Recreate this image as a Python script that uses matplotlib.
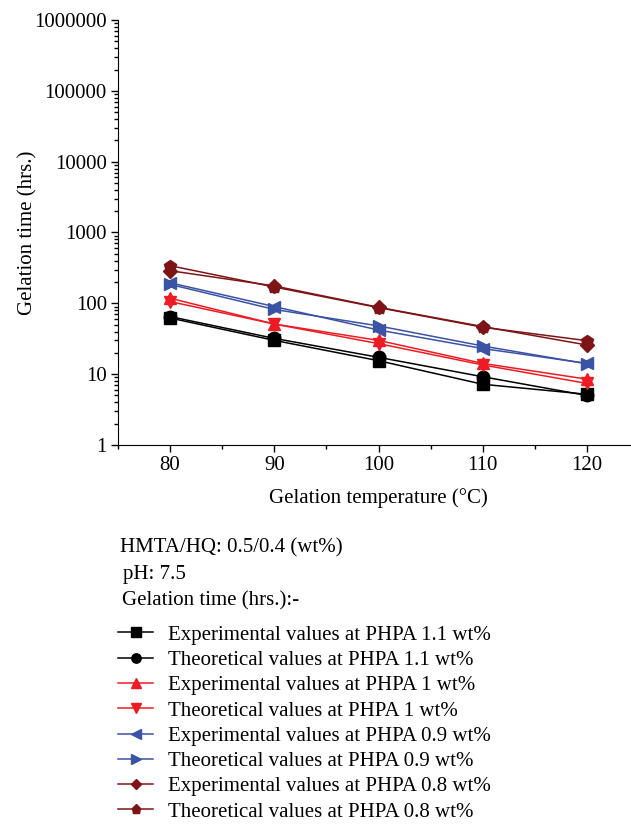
import matplotlib
matplotlib.use('Agg')
import matplotlib.pyplot as plt
import numpy as np

plt.rcParams['font.family'] = ['Liberation Serif', 'DejaVu Serif']

temps = [80, 90, 100, 110, 120]

exp_11 = [62, 30, 15.5, 7.2, 5.2]
theo_11 = [65, 32, 17.3, 9.2, 5.0]
exp_10 = [118, 51, 30, 14.2, 8.5]
theo_10 = [106, 51, 27, 13.5, 7.4]
exp_09 = [195, 90, 42, 23, 14.2]
theo_09 = [185, 82, 48, 25, 14.0]
exp_08 = [289, 176, 88, 47, 25.8]
theo_08 = [340, 170, 87, 46, 29.7]

series = [
    (exp_11, 'black', 's', 'Experimental values at PHPA 1.1 wt%'),
    (theo_11, 'black', 'o', 'Theoretical values at PHPA 1.1 wt%'),
    (exp_10, '#ed1c24', '^', 'Experimental values at PHPA 1 wt%'),
    (theo_10, '#ed1c24', 'v', 'Theoretical values at PHPA 1 wt%'),
    (exp_09, '#3a53a4', '<', 'Experimental values at PHPA 0.9 wt%'),
    (theo_09, '#3a53a4', '>', 'Theoretical values at PHPA 0.9 wt%'),
    (exp_08, '#7f1416', 'D', 'Experimental values at PHPA 0.8 wt%'),
    (theo_08, '#7f1416', 'p', 'Theoretical values at PHPA 0.8 wt%'),
]

fs = 15

fig = plt.figure(figsize=(6.31, 8.26), dpi=100)
# axes run past the right edge of the figure, as in the reference
ax = fig.add_axes([118 / 631, 1 - 445 / 826, 521 / 631, 425 / 826])

handles = []
for vals, col, mk, lab in series:
    ms = 7 if mk == 'D' else 9
    h, = ax.plot(temps, vals, color=col, marker=mk, markersize=ms,
                 linewidth=1.1, label=lab)
    handles.append(h)

ax.set_yscale('log')
ax.set_ylim(1, 1e6)
ax.set_xlim(75, 125)
ax.set_xticks([80, 90, 100, 110, 120])
ax.set_xticks([75, 85, 95, 105, 115, 125], minor=True)
ax.set_yticks([1, 10, 100, 1000, 10000, 100000, 1000000])
ax.set_yticklabels(['1', '10', '100', '1000', '10000', '100000', '1000000'])
ax.spines['top'].set_visible(False)
ax.spines['right'].set_visible(False)
ax.tick_params(axis='both', which='major', direction='out', length=5,
               width=1, labelsize=fs, pad=3)
ax.tick_params(axis='both', which='minor', direction='out', length=3,
               width=1)
ax.set_xlabel('Gelation temperature (°C)', fontsize=fs, labelpad=9)
ax.set_ylabel('Gelation time (hrs.)', fontsize=fs, labelpad=-2)

fig.text(120 / 631, 1 - 548 / 826, 'HMTA/HQ: 0.5/0.4 (wt%)', fontsize=fs,
         va='center')
fig.text(123 / 631, 1 - 574 / 826, 'pH: 7.5', fontsize=fs, va='center')
fig.text(122 / 631, 1 - 601 / 826, 'Gelation time (hrs.):-', fontsize=fs,
         va='center')

fig.legend(handles=handles, loc='upper left',
           bbox_to_anchor=(118 / 631, 1 - 625 / 826),
           frameon=False, fontsize=fs, handlelength=1.7, handletextpad=0.7,
           labelspacing=0.275, borderaxespad=0, borderpad=0,
           markerscale=0.75)

fig.savefig('out.png', dpi=100)
